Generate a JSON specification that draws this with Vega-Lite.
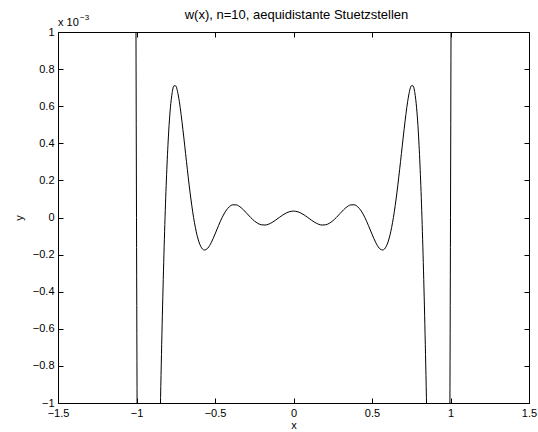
{
  "$schema": "https://vega.github.io/schema/vega-lite/v6.json",
  "width": 471,
  "height": 371,
  "autosize": {"type": "none"},
  "padding": {"left": 58, "top": 32, "right": 9, "bottom": 29},
  "background": "white",
  "title": {"text": "w(x), n=10, aequidistante Stuetzstellen", "fontSize": 13, "fontWeight": "normal", "font": "Liberation Sans", "color": "black", "frame": "group", "anchor": "middle", "baseline": "bottom", "offset": 9, "dy": 30, "dx": 3},
  "config": {
    "view": {"stroke": "black", "strokeWidth": 1},
    "font": "Liberation Sans",
    "axis": {
      "domain": false,
      "grid": false,
      "tickSize": -5,
      "tickColor": "black",
      "tickWidth": 1,
      "labelFont": "Liberation Sans",
      "labelFontSize": 11,
      "labelColor": "black",
      "titleFont": "Liberation Sans",
      "titleFontSize": 11,
      "titleFontWeight": "normal",
      "titleColor": "black",
      "labelFlush": false,
      "labelOverlap": false,
      "format": "~g"
    }
  },
  "datasets": {
    "w": [
      {"x": -1.009091, "y": 3.02},
      {"x": -1.004545, "y": 1.404},
      {"x": -1, "y": 0},
      {"x": -0.995455, "y": -1.207},
      {"x": -0.990909, "y": -2.235},
      {"x": -0.954545, "y": -5.787},
      {"x": -0.909091, "y": -4.381},
      {"x": -0.886364, "y": -3.036},
      {"x": -0.863636, "y": -1.76893},
      {"x": -0.840909, "y": -0.73856},
      {"x": -0.818182, "y": 0},
      {"x": -0.795455, "y": 0.45587},
      {"x": -0.772727, "y": 0.67288},
      {"x": -0.761364, "y": 0.70992},
      {"x": -0.75, "y": 0.70953},
      {"x": -0.738636, "y": 0.67917},
      {"x": -0.727273, "y": 0.62585},
      {"x": -0.704545, "y": 0.47556},
      {"x": -0.681818, "y": 0.30201},
      {"x": -0.659091, "y": 0.13677},
      {"x": -0.636364, "y": 0},
      {"x": -0.613636, "y": -0.0981},
      {"x": -0.590909, "y": -0.15528},
      {"x": -0.568182, "y": -0.17508},
      {"x": -0.545455, "y": -0.1647},
      {"x": -0.522727, "y": -0.13316},
      {"x": -0.5, "y": -0.08979},
      {"x": -0.477273, "y": -0.04309},
      {"x": -0.454545, "y": 0},
      {"x": -0.431818, "y": 0.03454},
      {"x": -0.409091, "y": 0.05768},
      {"x": -0.386364, "y": 0.06851},
      {"x": -0.363636, "y": 0.06782},
      {"x": -0.340909, "y": 0.05764},
      {"x": -0.318182, "y": 0.04081},
      {"x": -0.295455, "y": 0.02055},
      {"x": -0.272727, "y": 0},
      {"x": -0.25, "y": -0.01809},
      {"x": -0.227273, "y": -0.03163},
      {"x": -0.204545, "y": -0.03931},
      {"x": -0.181818, "y": -0.04069},
      {"x": -0.159091, "y": -0.03614},
      {"x": -0.136364, "y": -0.02674},
      {"x": -0.113636, "y": -0.01406},
      {"x": -0.090909, "y": 0},
      {"x": -0.068182, "y": 0.01349},
      {"x": -0.045455, "y": 0.0246},
      {"x": -0.022727, "y": 0.03189},
      {"x": 0, "y": 0.03443},
      {"x": 0.022727, "y": 0.03189},
      {"x": 0.045455, "y": 0.0246},
      {"x": 0.068182, "y": 0.01349},
      {"x": 0.090909, "y": 0},
      {"x": 0.113636, "y": -0.01406},
      {"x": 0.136364, "y": -0.02674},
      {"x": 0.159091, "y": -0.03614},
      {"x": 0.181818, "y": -0.04069},
      {"x": 0.204545, "y": -0.03931},
      {"x": 0.227273, "y": -0.03163},
      {"x": 0.25, "y": -0.01809},
      {"x": 0.272727, "y": 0},
      {"x": 0.295455, "y": 0.02055},
      {"x": 0.318182, "y": 0.04081},
      {"x": 0.340909, "y": 0.05764},
      {"x": 0.363636, "y": 0.06782},
      {"x": 0.386364, "y": 0.06851},
      {"x": 0.409091, "y": 0.05768},
      {"x": 0.431818, "y": 0.03454},
      {"x": 0.454545, "y": 0},
      {"x": 0.477273, "y": -0.04309},
      {"x": 0.5, "y": -0.08979},
      {"x": 0.522727, "y": -0.13316},
      {"x": 0.545455, "y": -0.1647},
      {"x": 0.568182, "y": -0.17508},
      {"x": 0.590909, "y": -0.15528},
      {"x": 0.613636, "y": -0.0981},
      {"x": 0.636364, "y": 0},
      {"x": 0.659091, "y": 0.13677},
      {"x": 0.681818, "y": 0.30201},
      {"x": 0.704545, "y": 0.47556},
      {"x": 0.727273, "y": 0.62585},
      {"x": 0.738636, "y": 0.67917},
      {"x": 0.75, "y": 0.70953},
      {"x": 0.761364, "y": 0.70992},
      {"x": 0.772727, "y": 0.67288},
      {"x": 0.795455, "y": 0.45587},
      {"x": 0.818182, "y": 0},
      {"x": 0.840909, "y": -0.73856},
      {"x": 0.863636, "y": -1.76893},
      {"x": 0.886364, "y": -3.036},
      {"x": 0.909091, "y": -4.381},
      {"x": 0.954545, "y": -5.787},
      {"x": 0.990909, "y": -2.235},
      {"x": 0.995455, "y": -1.207},
      {"x": 1, "y": 0},
      {"x": 1.004545, "y": 1.404},
      {"x": 1.009091, "y": 3.02}
    ],
    "exp": [
      {"x": -1.5, "y": 1, "base": "x 10", "sup": "−3"}
    ]
  },
  "layer": [
    {
      "data": {"name": "w"},
      "mark": {"type": "line", "color": "black", "strokeWidth": 1, "clip": true, "interpolate": "monotone"},
      "encoding": {
        "x": {"field": "x", "type": "quantitative",
              "scale": {"domain": [-1.5, 1.5], "nice": false, "zero": false},
              "axis": {"orient": "bottom", "values": [-1.5, -1, -0.5, 0, 0.5, 1, 1.5], "title": "x", "labelPadding": 9, "titlePadding": 1}},
        "y": {"field": "y", "type": "quantitative",
              "scale": {"domain": [-1, 1], "nice": false, "zero": false},
              "axis": {"orient": "left", "values": [-1, -0.8, -0.6, -0.4, -0.2, 0, 0.2, 0.4, 0.6, 0.8, 1], "title": "y", "labelPadding": 9, "titlePadding": 8}}
      }
    },
    {
      "data": {"name": "w"},
      "mark": {"type": "line", "opacity": 0, "clip": true},
      "encoding": {
        "x": {"field": "x", "type": "quantitative",
              "axis": {"orient": "top", "values": [-1.5, -1, -0.5, 0, 0.5, 1, 1.5], "labels": false, "title": null}},
        "y": {"field": "y", "type": "quantitative",
              "axis": {"orient": "right", "values": [-1, -0.8, -0.6, -0.4, -0.2, 0, 0.2, 0.4, 0.6, 0.8, 1], "labels": false, "title": null}}
      }
    },
    {
      "data": {"name": "exp"},
      "mark": {"type": "text", "align": "left", "baseline": "alphabetic", "dy": -6, "fontSize": 11, "font": "Liberation Sans", "color": "black"},
      "encoding": {
        "x": {"field": "x", "type": "quantitative", "axis": null},
        "y": {"field": "y", "type": "quantitative", "axis": null},
        "text": {"field": "base"}
      }
    },
    {
      "data": {"name": "exp"},
      "mark": {"type": "text", "align": "left", "baseline": "alphabetic", "dx": 22, "dy": -12, "fontSize": 8, "font": "Liberation Sans", "color": "black"},
      "encoding": {
        "x": {"field": "x", "type": "quantitative", "axis": null},
        "y": {"field": "y", "type": "quantitative", "axis": null},
        "text": {"field": "sup"}
      }
    }
  ],
  "resolve": {"axis": {"x": "independent", "y": "independent"}}
}
